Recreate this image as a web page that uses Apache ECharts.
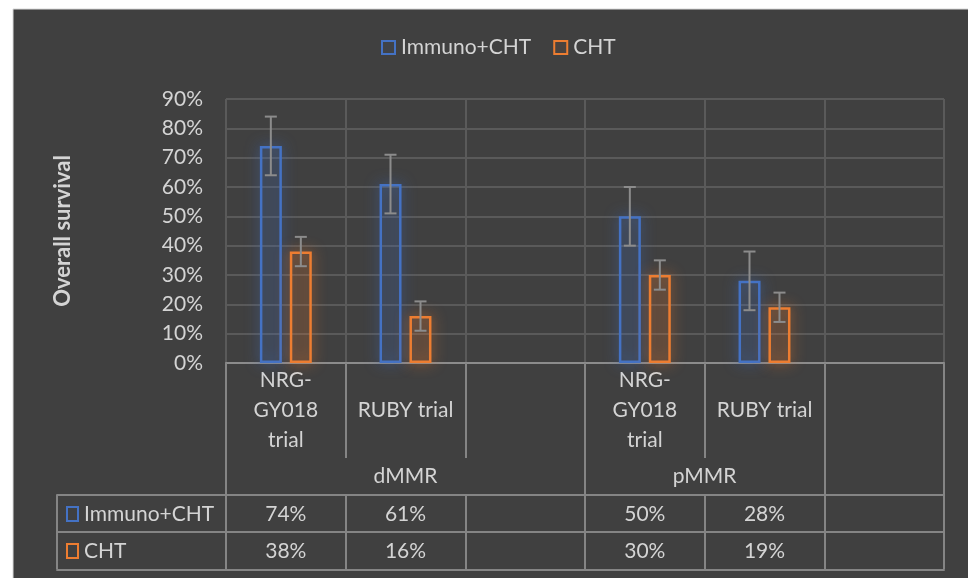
<!DOCTYPE html>
<html>
<head>
<meta charset="utf-8">
<script src="https://cdn.jsdelivr.net/npm/echarts@6/dist/echarts.min.js"></script>
<style>
  html, body { margin: 0; padding: 0; background: #fff; }
  #chart { width: 968px; height: 578px; }
</style>
</head>
<body>
<div id="chart"></div>
<script>
  // categories of the lower axis (empty ones are the blank slots in Excel)
  var categories = ['NRG-\nGY018\ntrial', 'RUBY trial', '', 'NRG-\nGY018\ntrial', 'RUBY trial', ''];
  // second level of the axis: label and number of categories it covers
  var groupLabels = ['dMMR', 'pMMR', ''];
  var groupSpans = [3, 2, 1];

  var seriesNames = ['Immuno+CHT', 'CHT'];
  var immuno = [74, 61, null, 50, 28, null];
  var cht = [38, 16, null, 30, 19, null];
  var immunoErr = [10, 10, null, 10, 10, null];
  var chtErr = [5, 5, null, 5, 5, null];

  var yMin = 0, yMax = 90, yStep = 10;

  var textColor = '#d4d4d4';
  var lineColor = '#858585';
  var fontFamily = 'Lato, "Open Sans", sans-serif';
  var fs = 21;
  var blue = '#4472C4', orange = '#ED7D31';

  // half-category points for the group row (boundaryGap false, 2 points per category)
  var total = groupSpans.reduce(function (a, b) { return a + b; }, 0);
  var groupPoints = [];
  for (var i = 0; i <= total * 2; i++) groupPoints.push('');
  var groupBounds = [0];
  var acc = 0;
  groupSpans.forEach(function (s, k) {
    groupPoints[acc * 2 + s] = groupLabels[k];
    acc += s;
    groupBounds.push(acc * 2);
  });

  function pct(v) { return v == null ? '' : v + '%'; }

  function errData(vals, errs) {
    var out = [];
    vals.forEach(function (v, k) {
      if (v != null) out.push([k, v, errs[k]]);
    });
    return out;
  }

  function errRender(shift) {
    return function (params, api) {
      var x = api.value(0), v = api.value(1), e = api.value(2);
      var hi = api.coord([x, v + e]);
      var lo = api.coord([x, v - e]);
      var cx = hi[0] + shift;
      var cap = 6;
      var st = { stroke: '#8c8c8c', lineWidth: 2 };
      return {
        type: 'group',
        children: [
          { type: 'line', shape: { x1: cx, y1: hi[1], x2: cx, y2: lo[1] }, style: st },
          { type: 'line', shape: { x1: cx - cap, y1: hi[1], x2: cx + cap, y2: hi[1] }, style: st },
          { type: 'line', shape: { x1: cx - cap, y1: lo[1], x2: cx + cap, y2: lo[1] }, style: st }
        ]
      };
    };
  }

  function tableRow(values, offset, showTicks) {
    return {
      type: 'category',
      gridIndex: 0,
      position: 'bottom',
      offset: offset,
      data: values,
      axisLine: { show: true, onZero: false, lineStyle: { color: lineColor, width: 2 } },
      axisTick: { show: showTicks, length: 37, interval: 0, lineStyle: { color: lineColor, width: 2 } },
      axisLabel: {
        show: showTicks, interval: 0, margin: 19, verticalAlign: 'middle',
        color: textColor, fontSize: fs, fontFamily: fontFamily
      },
      splitLine: { show: false }
    };
  }

  function headRow(name, color, offset, showTicks) {
    return {
      type: 'category',
      gridIndex: 1,
      position: 'bottom',
      offset: offset,
      boundaryGap: false,
      data: [name, ''],
      axisLine: { show: true, onZero: false, lineStyle: { color: lineColor, width: 2 } },
      axisTick: { show: showTicks, length: 37, interval: 0, lineStyle: { color: lineColor, width: 2 } },
      axisLabel: {
        show: showTicks, interval: 0, margin: 19, verticalAlign: 'middle', align: 'left',
        padding: [0, 0, 0, 10],
        formatter: function (v) { return v ? '{sq| }{sp| }' + v : ''; },
        color: textColor, fontSize: fs, fontFamily: fontFamily,
        rich: {
          sq: { width: 11, height: 14, borderColor: color, borderWidth: 2 },
          sp: { width: 6 }
        }
      },
      splitLine: { show: false }
    };
  }

  var chart = echarts.init(document.getElementById('chart'));
  chart.setOption({
    backgroundColor: '#fff',
    animation: false,
    textStyle: { fontFamily: fontFamily },
    graphic: [{
      type: 'rect', z: -100,
      shape: { x: 13, y: 9, width: 965, height: 580 },
      style: { fill: '#404040', stroke: '#d9d9d9', lineWidth: 1 }
    }],
    legend: {
      data: seriesNames,
      left: 376, top: 32,
      icon: 'rect',
      itemWidth: 13, itemHeight: 13, itemGap: 22,
      itemStyle: { borderWidth: 2 },
      textStyle: { color: textColor, fontSize: fs, fontFamily: fontFamily, padding: [0, 0, 0, 1] }
    },
    grid: [
      { left: 226, right: 24, top: 99, height: 264 },
      { left: 57, width: 169, top: 99, height: 264 }
    ],
    xAxis: [
      {
        type: 'category',
        gridIndex: 0,
        data: categories,
        axisLine: { show: true, lineStyle: { color: '#8c8c8c', width: 2 } },
        axisTick: { show: true, length: 95, interval: 0, lineStyle: { color: lineColor, width: 2 } },
        axisLabel: {
          interval: 0, margin: 47, verticalAlign: 'middle', lineHeight: 30,
          color: textColor, fontSize: fs, fontFamily: fontFamily
        },
        splitLine: { show: true, interval: 0, lineStyle: { color: '#5a5a5a', width: 2 } }
      },
      {
        type: 'category',
        gridIndex: 0,
        position: 'bottom',
        boundaryGap: false,
        data: groupPoints,
        axisLine: { show: false, onZero: false },
        axisTick: {
          show: true, length: 132,
          interval: function (idx) { return groupBounds.indexOf(idx) >= 0; },
          lineStyle: { color: lineColor, width: 2 }
        },
        axisLabel: {
          interval: 0, margin: 113, verticalAlign: 'middle',
          color: textColor, fontSize: fs, fontFamily: fontFamily
        },
        splitLine: { show: false }
      },
      tableRow(immuno.map(pct), 132, true),
      tableRow(cht.map(pct), 169, true),
      tableRow(categories.map(function () { return ''; }), 207, false),
      headRow(seriesNames[0], blue, 132, true),
      headRow(seriesNames[1], orange, 169, true),
      headRow('', lineColor, 207, false)
    ],
    yAxis: [
      {
        type: 'value',
        gridIndex: 0,
        min: yMin, max: yMax, interval: yStep,
        name: 'Overall survival',
        nameLocation: 'middle',
        nameGap: 152,
        nameRotate: 90,
        nameTextStyle: { color: textColor, fontSize: 22, fontWeight: 'bold', fontFamily: fontFamily },
        axisLine: { show: false },
        axisTick: { show: false },
        axisLabel: { formatter: '{value}%', margin: 23, color: textColor, fontSize: fs, fontFamily: fontFamily },
        splitLine: { lineStyle: { color: '#5a5a5a', width: 2 } }
      },
      { type: 'value', gridIndex: 1, show: false }
    ],
    series: [
      {
        name: seriesNames[0],
        type: 'bar',
        xAxisIndex: 0, yAxisIndex: 0,
        data: immuno,
        barWidth: 22,
        barGap: '36%',
        itemStyle: {
          color: 'rgba(68,114,196,0.06)', borderColor: blue, borderWidth: 2.5,
          shadowBlur: 14, shadowColor: 'rgba(68,114,196,0.95)'
        }
      },
      {
        name: seriesNames[1],
        type: 'bar',
        xAxisIndex: 0, yAxisIndex: 0,
        data: cht,
        barWidth: 22,
        barGap: '36%',
        itemStyle: {
          color: 'rgba(237,125,49,0.06)', borderColor: orange, borderWidth: 2.5,
          shadowBlur: 14, shadowColor: 'rgba(237,125,49,0.95)'
        }
      },
      {
        type: 'custom',
        xAxisIndex: 0, yAxisIndex: 0,
        data: errData(immuno, immunoErr),
        encode: { x: 0, y: 1 },
        renderItem: errRender(-15),
        z: 5
      },
      {
        type: 'custom',
        xAxisIndex: 0, yAxisIndex: 0,
        data: errData(cht, chtErr),
        encode: { x: 0, y: 1 },
        renderItem: errRender(15),
        z: 5
      }
    ]
  });
</script>
</body>
</html>
